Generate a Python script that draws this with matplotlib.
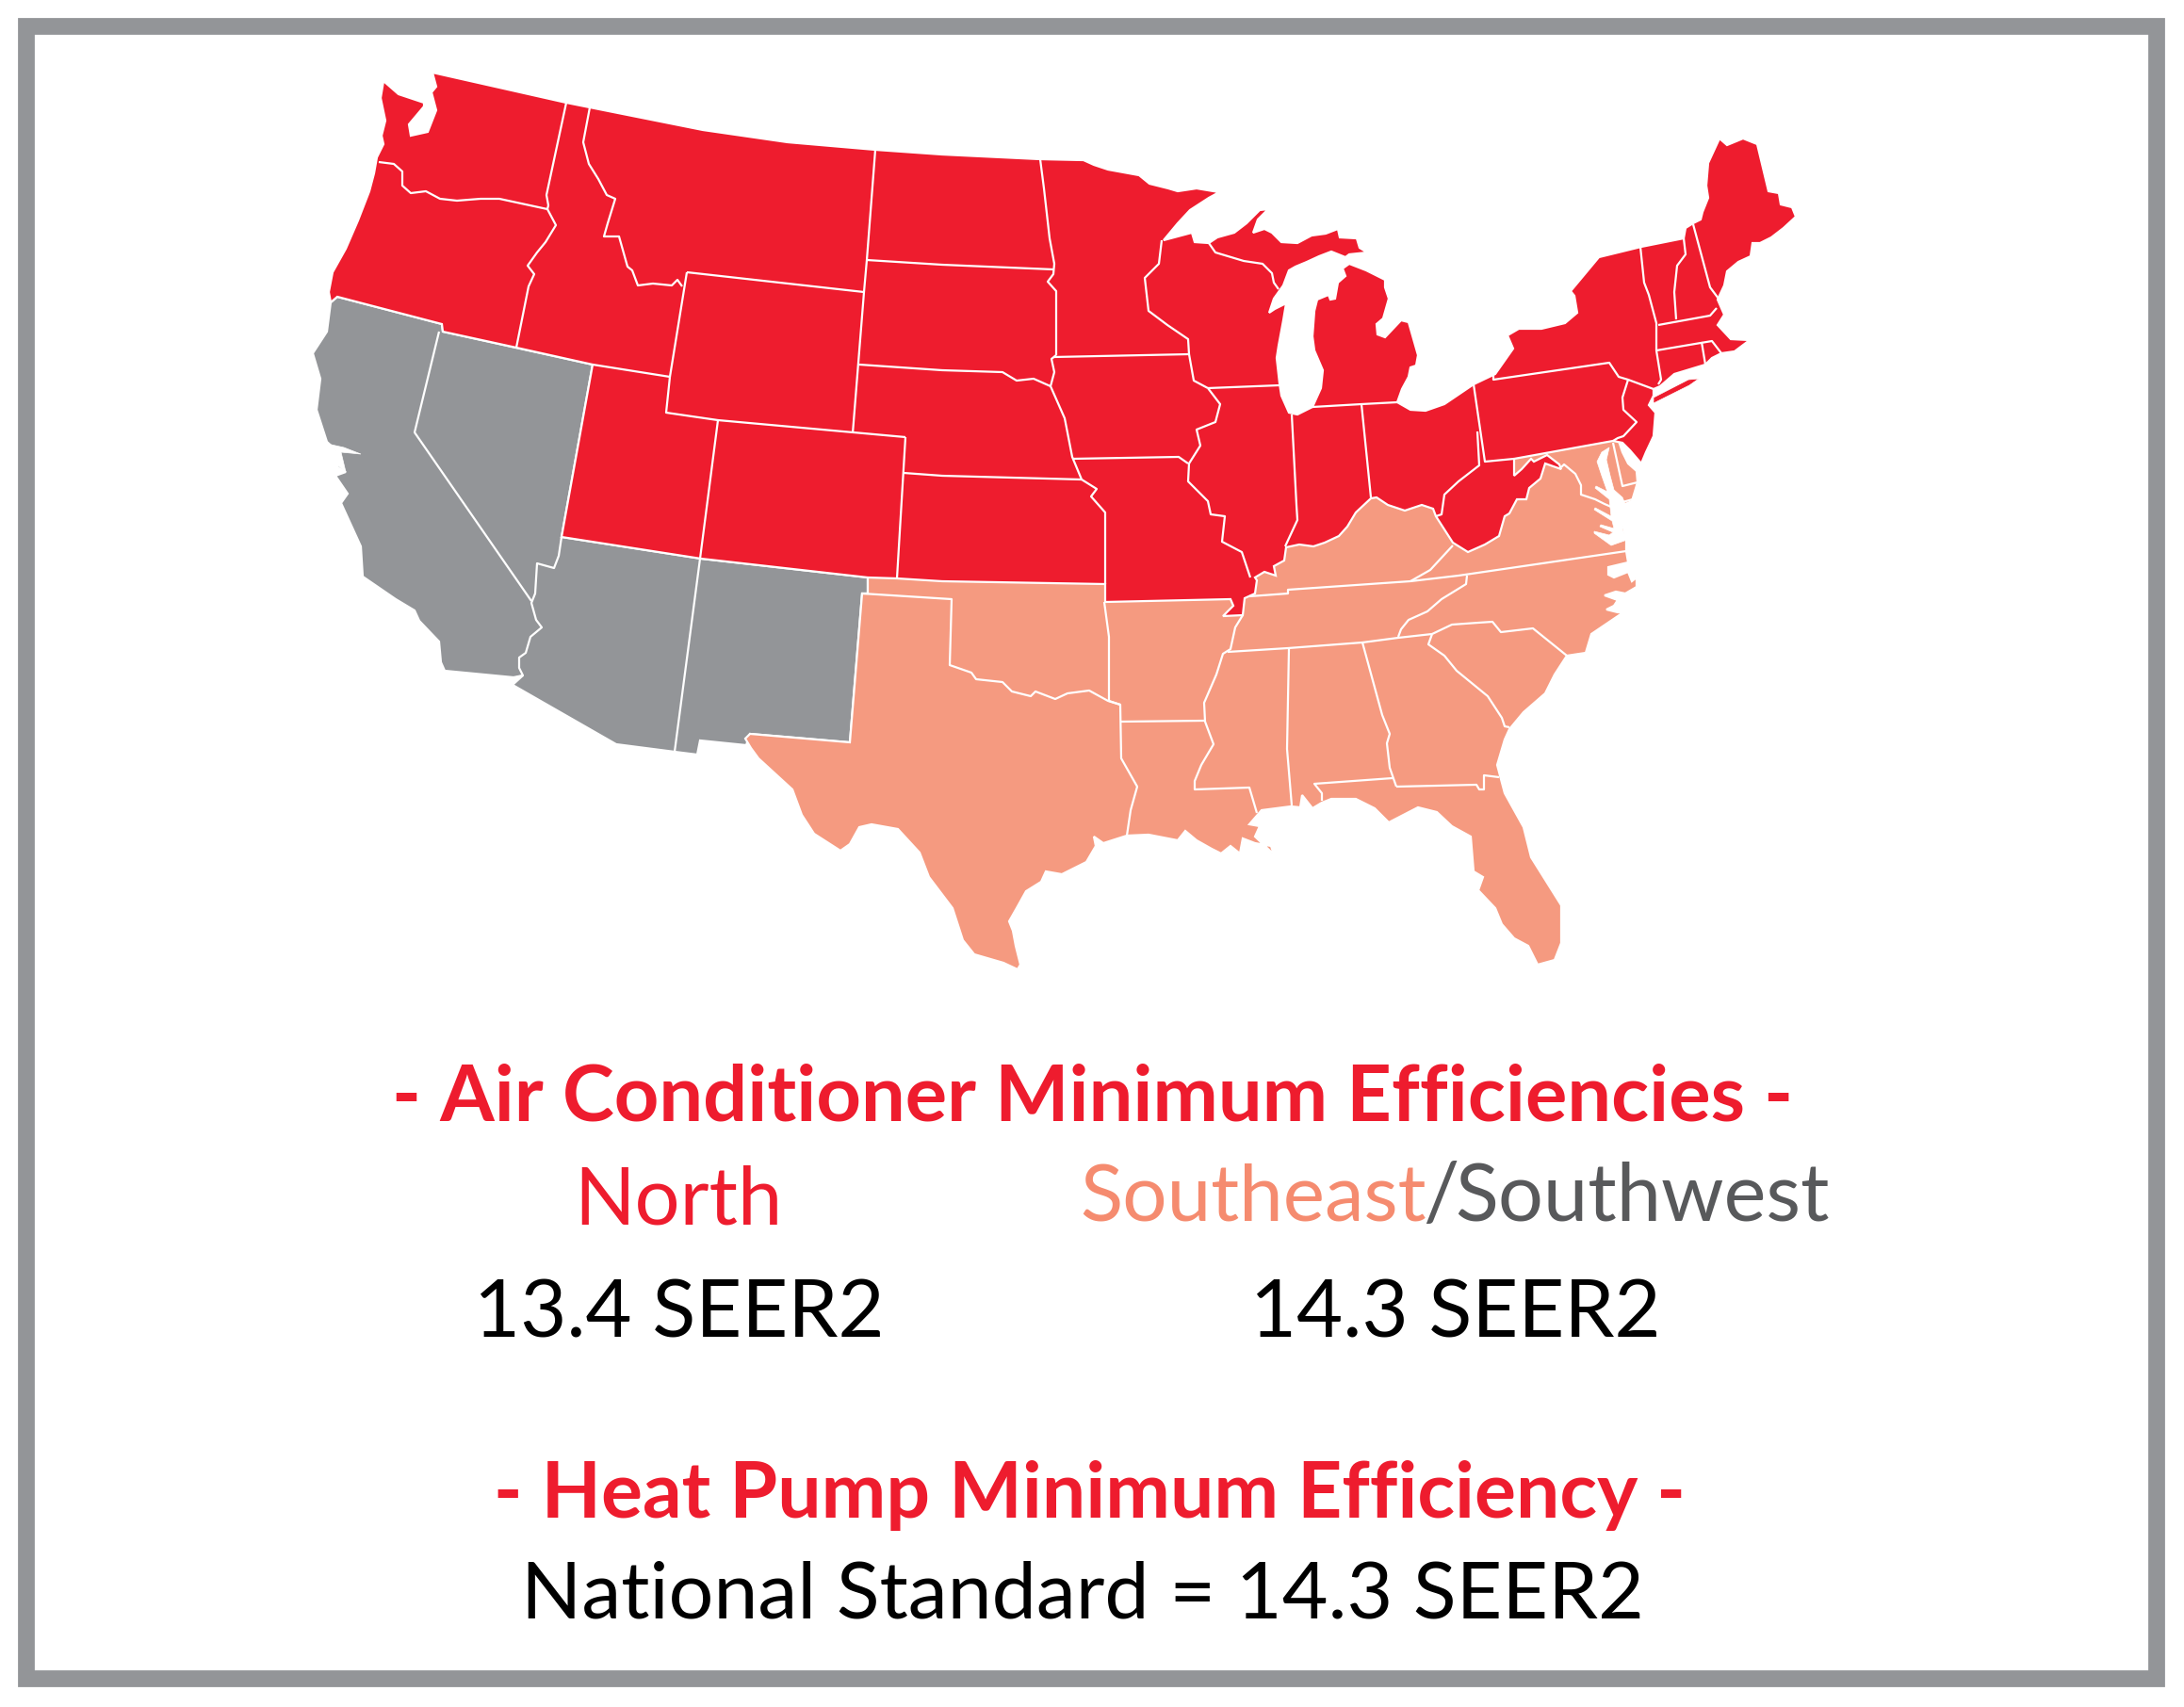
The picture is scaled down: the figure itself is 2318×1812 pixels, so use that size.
# Minimum efficiency map, region fills with state lines on top

import matplotlib
matplotlib.use("Agg")
import matplotlib.pyplot as plt
from matplotlib.patches import Polygon, Rectangle

plt.rcParams['font.family'] = ['Lato', 'DejaVu Sans']

northColor = "#EE1C2E"
southeastColor = "#F59A80"
southwestColor = "#939598"
frameColor = "#939598"
textRed = "#EE1C2E"
textSalmon = "#F58B6F"
textGrey = "#58595B"

# Region outlines
northOutline = [(459,77),(601,109),(626,114),(746,138),(836,151),(929,159),(1000,164),(1104,169),(1150,170),
    (1161,175),(1176,180),(1209,186),(1220,195),(1240,200),(1250,203),(1270,200),(1294,204),(1283,210),(1263,223),
    (1250,237),(1235,255),(1265,247),(1268,257),(1283,258),(1292,252),(1310,247),(1323,237),(1337,223),(1346,222),
    (1335,233),(1330,247),(1342,243),(1350,247),(1360,257),(1377,258),(1392,250),(1407,248),(1420,243),(1422,252),
    (1440,253),(1443,263),(1451,268),(1432,270),(1428,273),(1413,267),(1400,272),(1387,278),(1375,283),(1368,287),
    (1362,303),(1357,310),(1352,317),(1347,332),(1353,328),(1365,322),(1362,340),(1357,367),(1355,380),(1358,407),
    (1360,420),(1368,438),(1377,440),(1393,432),(1402,412),(1404,393),(1395,372),(1393,357),(1395,330),(1398,318),
    (1410,313),(1412,318),(1417,317),(1420,300),(1428,293),(1425,285),(1432,280),(1450,287),(1470,297),(1470,305),
    (1474,317),(1468,338),(1461,344),(1462,355),(1470,358),(1487,340),(1495,342),(1505,377),(1503,388),(1497,390),
    (1495,400),(1488,413),(1483,427),(1497,435),(1513,436),(1533,429),(1564,408),(1587,397),
    (1606,370),(1600,356),(1612,349),(1636,349),(1661,343),(1674,332),(1671,314),(1667,309),(1697,273),(1742,262),
    (1787,253),(1789,242),(1797,237),(1805,233),(1807,225),(1813,210),(1811,197),(1813,173),(1825,147),(1833,154),
    (1850,147),(1865,153),(1877,203),(1888,205),(1890,217),(1902,220),(1906,230),(1893,242),(1880,252),(1868,258),
    (1860,258),(1858,272),(1845,278),(1833,288),(1830,303),(1823,318),(1830,334),(1823,345),(1837,360),(1857,361),
    (1841,373),(1827,375),(1817,380),(1810,387),(1777,397),(1762,410),(1755,413),(1755,420),(1750,430),(1757,438),
    (1755,463),(1747,480),(1742,492),(1730,478),(1722,470),(1712,468),(1607,487),(1607,505),(1615,498),(1625,487),
    (1628,490),(1642,483),(1655,493),(1657,498),(1640,492),(1635,508),(1623,518),(1620,530),(1610,530),(1602,545),
    (1597,548),(1591,569),(1576,578),(1558,586),(1542,576),
    (1524,548),(1521,540),(1509,536),(1491,542),(1473,536),(1461,528),(1455,529),(1439,544),(1430,559),(1421,569),
    (1406,576),(1394,580),(1379,578),(1365,581),(1363,595),(1352,601),(1354,611),(1342,607),(1332,613),(1334,616),
    (1332,630),(1321,635),(1319,653),(1298,654),(1309,643),(1306,636),(1173,639),(1173,620),(1000,617),(952,614),
    (921,613),(744,593),(596,570),(629,387),(548,369),(470,352),(469,344),(358,315),(351,321),(349,310),(353,289),
    (367,264),(380,234),(392,203),(397,184),(400,167),(407,153),(405,144),(409,128),(404,104),(407,86),(423,100),
    (450,109),(450,113),(434,132),(436,144),(454,140),(463,117),(458,98),(463,92)]

longIsland = [(1755,422),(1792,403),(1803,402),(1793,409),(1755,428)]

southeastOutline = [(921,600),(921,630),(915,630),(902,788),(796,779),(791,784),(797,794),(805,805),(841,838),
    (851,865),(864,885),(892,903),(902,896),(912,878),(925,875),(953,880),(976,905),(986,931),(1011,964),(1022,998),
    (1034,1013),(1065,1022),(1080,1029),(1083,1024),(1078,1004),(1075,988),(1071,978),(1079,964),(1089,946),
    (1105,936),(1110,925),(1127,928),(1153,915),(1163,898),(1161,888),(1171,895),(1196,887),(1219,886),(1250,892),
    (1258,882),(1270,892),(1286,901),(1296,906),(1306,898),(1316,906),(1319,890),(1332,895),(1349,898),(1352,907),
    (1332,888),(1337,877),(1326,875),(1339,860),(1370,856),(1380,857),(1382,844),(1393,858),(1403,852),(1413,848),
    (1439,848),(1459,858),(1474,873),(1505,857),(1525,862),(1541,877),(1561,888),(1564,925),(1574,931),(1569,945),
    (1587,964),(1594,981),(1607,996),(1622,1004),(1632,1024),(1650,1019),(1657,1001),(1657,961),(1625,910),(1617,878),
    (1597,842),(1589,812),(1597,785),(1602,774),(1617,756),(1640,736),(1650,716),(1663,696),(1683,693),(1689,673),
    (1723,650),(1717,650),(1705,647),(1713,643),(1717,637),(1703,632),(1715,628),(1725,630),(1737,623),(1737,613),
    (1732,617),(1728,607),(1713,613),(1707,610),(1707,602),(1728,597),(1726,585),(1726,573),(1723,560),(1725,535),
    (1732,532),(1738,512),(1737,500),(1728,492),(1722,480),(1717,465),(1712,450),(1560,450),(1400,500),
    (1300,570),(1200,600),(1000,600)]

southwestOutline = [(358,315),(351,321),(347,352),(332,375),(340,402),(336,435),(347,469),(358,479),(358,496),
    (367,501),(356,505),(369,524),(362,534),(383,580),(385,612),(420,636),(440,648),(445,659),(466,681),(468,703),
    (472,712),(545,719),(555,717),(544,727),(654,790),(716,798),(740,801),(743,786),(792,791),(796,779),(902,788),
    (915,630),(921,630),(921,613),(744,593),(596,570),(629,387),(470,352),(469,344)]

# Inlets cut out of the fills
chesapeake = [(1708,475),(1705,488),(1709,505),(1713,520),(1722,528),(1727,540),(1724,555),(1722,562),(1727,573),
              (1710,579),(1692,566),(1692,564),(1708,568),(1712,565),(1698,559),(1699,557),(1713,561),(1711,553),
              (1692,541),(1693,539),(1710,548),(1708,530),(1693,518),(1694,516),(1706,522),(1700,505),(1695,490),
              (1700,480)]
delawareBay = [(1722,477),(1745,490),(1742,505),(1737,500),(1728,492)]
sanFranciscoBay = [(347,471),(365,475),(383,482),(362,480),(367,501),(358,494),(358,480)]
inlets = [chesapeake, delawareBay, sanFranciscoBay]

# State lines
stateLines = [
    [(402,172),(418,174),(427,182),(427,197),(436,205),(452,203),(467,211),(485,213),(510,211),(530,211),(581,222)],
    [(601,109),(580,207),(582,218),(581,222)],
    [(581,222),(590,239),(579,257),(570,268),(560,282),(567,291),(561,304),(548,369)],
    [(626,114),(619,151),(625,174),(635,190),(644,207),(653,211),(645,237),(641,251),(657,251),(666,283),(671,287),
     (677,303),(693,301),(713,303),(719,297),(724,304)],
    [(729,289),(711,400)],
    [(629,387),(711,400)],
    [(729,289),(917,310)],
    [(929,159),(920,276),(917,310),(905,460)],
    [(711,400),(707,438),(762,446),(961,464)],
    [(762,446),(743,593)],
    [(961,464),(952,614)],
    [(920,276),(1000,281),(1118,286)],
    [(912,387),(1000,393),(1064,395),(1079,404),(1097,402),(1115,410)],
    [(959,502),(1000,505),(1148,509)],
    [(1104,169),(1108,200),(1114,253),(1119,280),(1118,291),(1112,299),(1121,309),(1121,377)],
    [(1118,379),(1262,376)],
    [(1121,377),(1116,381),(1119,395),(1115,410),(1130,444),(1138,485),(1148,509),(1164,519),(1158,527),(1173,544),
     (1173,620)],
    [(1138,487),(1251,485),(1261,492)],
    [(1233,255),(1230,280),(1215,295),(1219,330),(1239,345),(1261,360),(1262,376),(1267,404),(1282,412)],
    [(1282,412),(1295,429),(1290,448),(1270,456),(1274,473),(1262,492),(1261,511),(1282,532),(1285,546),(1300,548),
     (1297,575),(1318,586),(1327,613)],
    [(1282,412),(1358,409)],
    [(1283,258),(1290,268),(1320,277),(1340,280),(1350,290),(1352,300),(1357,307)],
    [(1371,440),(1376,536),(1377,552),(1364,580)],
    [(1393,432),(1445,429),(1483,427)],
    [(1445,429),(1455,528)],
    [(1564,408),(1576,490),(1607,487)],
    [(1568,458),(1570,494),(1548,511),(1533,525),(1530,546),(1524,548)],
    [(1585,395),(1585,403),(1708,385),(1718,400),(1728,403),(1755,413)],
    [(1728,403),(1722,422),(1723,435),(1737,448),(1723,463),(1717,465),(1712,468)],
    [(1741,262),(1745,300),(1750,313),(1758,343),(1758,372),(1763,403),(1760,408)],
    [(1787,253),(1789,270),(1780,282),(1777,310),(1779,339)],
    [(1760,345),(1815,335),(1822,327)],
    [(1797,238),(1815,305),(1824,317)],
    [(1758,372),(1817,362),(1827,375)],
    [(1806,363),(1810,387)],
    # southwest
    [(466,352),(440,459),(564,638)],
    [(596,570),(593,590),(588,603),(570,598),(568,630),(564,640),(569,658),(575,666),(563,676),(558,693),(551,698),
     (551,709),(555,717),(545,720)],
    [(743,593),(716,798)],
    # southeast
    [(915,630),(1010,636),(1008,706),(1031,714),(1036,721),(1064,724),(1074,734),(1094,739),(1099,734),(1120,742),
     (1133,736),(1156,733),(1176,744),(1189,748)],
    [(1172,639),(1177,676),(1177,744),(1189,748),(1190,805),(1207,835),(1200,860),(1196,887)],
    [(1190,766),(1278,765)],
    [(1319,653),(1311,666),(1306,689),(1298,694),(1291,716),(1278,746),(1279,766),(1288,790),(1275,812),(1268,829),
     (1268,838),(1326,836),(1334,863)],
    [(1326,633),(1367,630),(1367,626),(1497,617),(1548,611),(1726,585)],
    [(1497,617),(1518,605),(1542,579)],
    [(1557,611),(1556,620),(1530,636),(1515,649),(1495,658),(1487,668),(1484,676)],
    [(1303,692),(1367,688),(1446,682),(1484,677),(1520,673)],
    [(1368,689),(1366,795),(1371,855)],
    [(1446,682),(1467,759),(1475,779),(1472,789),(1475,815),(1482,835)],
    [(1403,850),(1403,842),(1395,832),(1478,826)],
    [(1482,835),(1567,833),(1570,838),(1575,838),(1575,823),(1591,825)],
    [(1520,673),(1516,684),(1533,696),(1546,712),(1579,739),(1594,762),(1597,771),(1602,772)],
    [(1520,673),(1541,663),(1569,661),(1584,660),(1593,671),(1627,667),(1663,696)],
    [(1712,470),(1722,516),(1738,512)],
    [(1722,533),(1733,530)],
    [(1657,496),(1660,493),(1672,503),(1678,515),(1678,525),(1693,530),(1703,535),(1710,538)],
]

# Text
titleAc = "- Air Conditioner Minimum Efficiencies -"
labelNorth = "North"
labelSoutheast = "Southeast"
labelSlash = "/"
labelSouthwest = "Southwest"
valueNorth = "13.4 SEER2"
valueSouth = "14.3 SEER2"
titleHp = "- Heat Pump Minimum Efficiency -"
valueNational = "National Standard = 14.3 SEER2"

fig = plt.figure(figsize=(23.18, 18.12), dpi=100, facecolor="white")
ax = fig.add_axes([0, 0, 1, 1])
ax.set_xlim(0, 2318)
ax.set_ylim(1812, 0)
ax.axis("off")

# Frame
ax.add_patch(Rectangle((28, 28), 2260.5, 1753.5, fill=False, edgecolor=frameColor, linewidth=12.8))

# Fills: red goes last so it covers the rough top edges of the other two
ax.add_patch(Polygon(southwestOutline, closed=True, facecolor=southwestColor, edgecolor="white", linewidth=1.6))
ax.add_patch(Polygon(southeastOutline, closed=True, facecolor=southeastColor, edgecolor="white", linewidth=1.6))
for inlet in inlets:
    ax.add_patch(Polygon(inlet, closed=True, facecolor="white", edgecolor="white", linewidth=0.5))
ax.add_patch(Polygon(northOutline, closed=True, facecolor=northColor, edgecolor="white", linewidth=1.6))
ax.add_patch(Polygon(longIsland, closed=True, facecolor=northColor, edgecolor="white", linewidth=0.5))

for line in stateLines:
    xs = [p[0] for p in line]
    ys = [p[1] for p in line]
    ax.plot(xs, ys, color="white", linewidth=1.6, solid_joinstyle="round", solid_capstyle="butt")

# Text blocks
ax.text(1160, 1190, titleAc, color=textRed, fontsize=59.8, fontweight="bold", ha="center", va="baseline")
ax.text(720, 1299, labelNorth, color=textRed, fontsize=61, ha="center", va="baseline")
ax.text(1146, 1295, labelSoutheast, color=textSalmon, fontsize=60.2, ha="left", va="baseline")
ax.text(1510, 1295, labelSlash, color=textGrey, fontsize=61, ha="left", va="baseline")
ax.text(1544, 1295, labelSouthwest, color=textGrey, fontsize=61, ha="left", va="baseline")
ax.text(721, 1419, valueNorth, color="black", fontsize=61, ha="center", va="baseline")
ax.text(1545, 1419, valueSouth, color="black", fontsize=61, ha="center", va="baseline")
ax.text(1157, 1611, titleHp, color=textRed, fontsize=59.2, fontweight="bold", ha="center", va="baseline")
ax.text(1149, 1718, valueNational, color="black", fontsize=60.7, ha="center", va="baseline")

fig.savefig("out.png", dpi=100, facecolor="white")
